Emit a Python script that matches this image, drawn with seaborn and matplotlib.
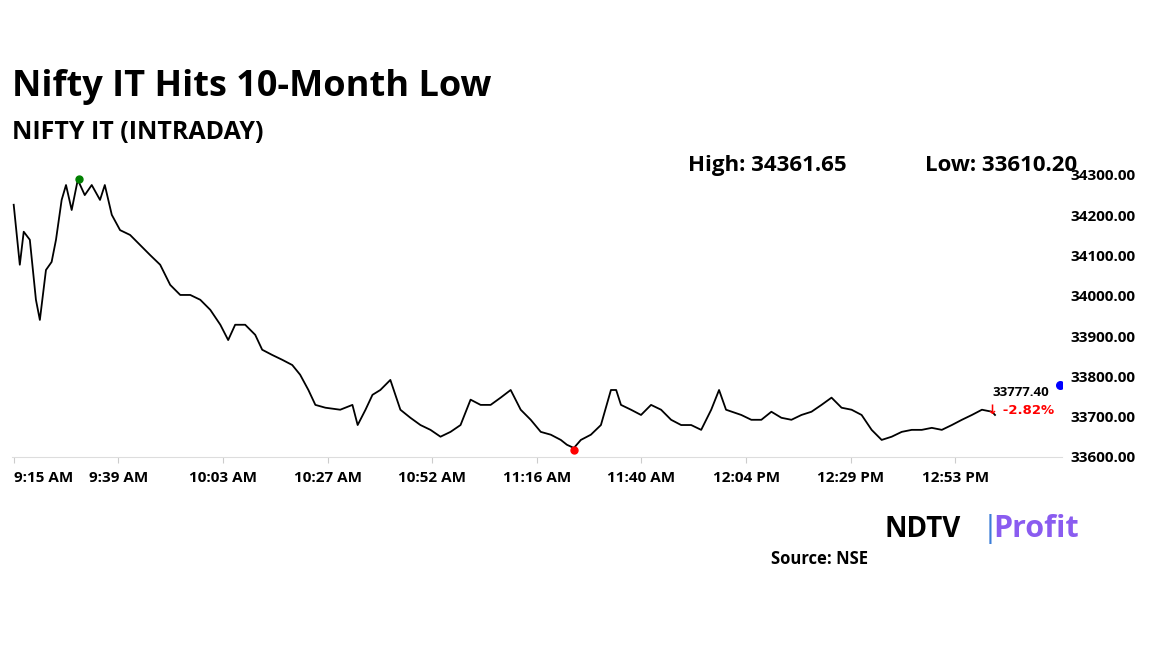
import matplotlib
matplotlib.use("Agg")
import matplotlib.pyplot as plt
import seaborn as sns
import pandas as pd

minutes = [0,1.4,2.3,3.7,5.1,6,7.4,8.7,9.7,11,12,13.3,14.7,16.3,17.9,19.8,20.9,22.5,24.4,26.7,29,31.3,33.6,35.9,38.2,40.5,42.8,45.1,47.4,49.2,50.8,53.1,55.4,57,59.3,61.6,63.9,65.7,67.6,69.2,71.5,74.9,77.7,78.9,80.7,82.3,84.1,86.4,88.7,91,93.3,95.6,97.9,100.2,102.5,104.8,107.1,109.4,111.7,114,116.3,118.6,120.9,123.2,125.5,126.9,128.5,130.1,132.4,134.7,137,138.2,139.3,141.6,143.9,146.2,148.5,150.8,153.1,155.4,157.7,160,161.8,163.4,166.9,169.2,171.5,173.8,176.1,178.4,180.7,183,185.3,187.6,189.9,192.2,194.5,196.8,199.1,201.4,203.7,206,208.3,210.6,212.9,215.2,217.5,219.8,222.1,224.4,225.1]
values = [34226,34077,34159,34139,33990,33940,34064,34084,34139,34238,34275,34213,34288,34250,34275,34238,34275,34201,34163,34151,34126,34101,34077,34027,34002,34002,33990,33965,33928,33890,33928,33928,33903,33866,33853,33841,33828,33804,33766,33729,33722,33717,33729,33679,33717,33754,33766,33791,33717,33697,33679,33667,33650,33662,33679,33742,33729,33729,33747,33766,33717,33692,33662,33655,33642,33630,33622,33642,33655,33679,33766,33766,33729,33717,33704,33729,33717,33692,33679,33679,33667,33717,33766,33717,33704,33692,33692,33712,33697,33692,33704,33712,33729,33747,33722,33717,33704,33667,33642,33650,33662,33667,33667,33672,33667,33679,33692,33704,33717,33712,33704]
tick_minutes = [0,24,48,72,96,120,144,168,192,216]
tick_labels = ["9:15 AM","9:39 AM","10:03 AM","10:27 AM","10:52 AM","11:16 AM","11:40 AM","12:04 PM","12:29 PM","12:53 PM"]
y_ticks = [33600,33700,33800,33900,34000,34100,34200,34300]
high_point = (14.9, 34290)
low_point = (128.5, 33618)
last_point = (240, 33777.40)

font = "Open Sans"
plt.rcParams["font.family"] = font
fig = plt.figure(figsize=(11.52, 6.48), dpi=100)
ax = fig.add_axes([0.010, 0.295, 0.912, 0.458])
df = pd.DataFrame({"t": minutes, "v": values})
sns.lineplot(data=df, x="t", y="v", ax=ax, color="black", linewidth=1.3)
ax.scatter(*high_point, color="green", s=25, zorder=5)
ax.scatter(*low_point, color="red", s=25, zorder=5)
ax.scatter(*last_point, color="blue", s=30, zorder=5)
ax.set_xlim(-0.5, 240.5)
ax.set_ylim(33600, 34337)
ax.yaxis.tick_right()
ax.set_yticks(y_ticks)
ax.set_yticklabels([f"{v:.2f}" for v in y_ticks], fontsize=11, fontweight="bold")
ax.set_xticks(tick_minutes)
ax.set_xticklabels(tick_labels, fontsize=11, fontweight="bold")
ax.get_xticklabels()[0].set_horizontalalignment("left")
ax.tick_params(axis="both", length=0, pad=6)
ax.tick_params(axis="x", length=4, color="#cccccc")
ax.set_xlabel(""); ax.set_ylabel("")
for s in ["top", "right", "left"]:
    ax.spines[s].set_visible(False)
ax.spines["bottom"].set_color("#dddddd")
ax.text(231, 33777, "33777.40", fontsize=9.5, fontweight="bold", ha="center", va="top")
ax.text(231, 33730, "\u2193 -2.82%", fontsize=9.5, fontweight="bold", color="red", ha="center", va="top", fontfamily="DejaVu Sans")

fig.text(0.010, 0.865, "Nifty IT Hits 10-Month Low", fontsize=26, fontweight="bold", va="center")
fig.text(0.010, 0.795, "NIFTY IT (INTRADAY)", fontsize=18, fontweight="bold", va="center")
fig.text(0.597, 0.745, "High: 34361.65", fontsize=16, fontweight="bold", va="center")
fig.text(0.803, 0.745, "Low: 33610.20", fontsize=16, fontweight="bold", va="center")
fig.text(0.768, 0.183, "NDTV", fontsize=20, fontweight="bold", va="center")
fig.text(0.852, 0.183, "|", fontsize=22, color="#3b7dd8", va="center")
fig.text(0.862, 0.183, "Profit", fontsize=22, fontweight="bold", color="#8a5cf0", va="center")
fig.text(0.669, 0.137, "Source: NSE", fontsize=12, fontweight="bold", va="center")
fig.savefig("out.png", dpi=100, facecolor="white")
